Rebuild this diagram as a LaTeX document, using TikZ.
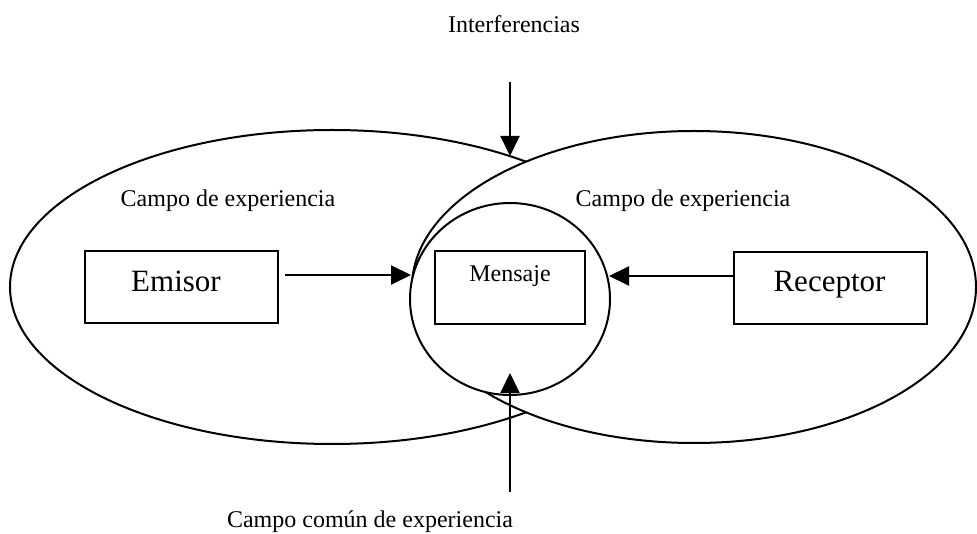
\documentclass[tikz,border=0pt]{standalone}
\usepackage{fontspec}
\setmainfont{Liberation Serif}
\usetikzlibrary{arrows.meta}
\begin{document}
\begin{tikzpicture}[x=1pt,y=-1pt,
  ln/.style={line width=2pt},
  box/.style={draw,line width=1.7pt,inner sep=0pt},
  lbl/.style={inner sep=0pt,anchor=base,font=\fontsize{24}{28}\selectfont},
  big/.style={inner sep=0pt,anchor=base,font=\fontsize{31}{36}\selectfont},
  arr/.style={line width=2pt,-{Triangle[length=20pt,width=19pt]}}]
\useasboundingbox (0,0) rectangle (977,534);
% fields of experience
\draw[ln] (332,287) ellipse [x radius=322, y radius=157];
\coordinate (leftfield) at (332,287);
\draw[ln,fill=white] (694,287) ellipse [x radius=282, y radius=156];
\coordinate (rightfield) at (694,287);
\draw[ln,fill=white] (510,299) ellipse [x radius=100, y radius=96];
\coordinate (common) at (510,299);
% boxes
\node[box,minimum width=193pt,minimum height=72pt] (emisorbox) at (181.5,287) {};
\node[box,minimum width=150pt,minimum height=73pt] (mensajebox) at (510,287.5) {};
\node[box,minimum width=193pt,minimum height=72pt] (receptorbox) at (830.5,288) {};
% texts
\node[big] (emisor) at (176,292) {Emisor};
\node[big] (receptor) at (829.5,292) {Receptor};
\node[lbl] (mensaje) at (510,282) {Mensaje};
\node[lbl] (campoL) at (228,207) {Campo de experiencia};
\node[lbl] (campoR) at (683,207) {Campo de experiencia};
\node[lbl] (interf) at (514,33) {Interferencias};
\node[lbl] (comun) at (370,527) {Campo común de experiencia};
% connectors
\coordinate (emisorout) at (285,275);
\coordinate (msgleft) at (411,275);
\coordinate (msgright) at (609,276);
\coordinate (receptorin) at (receptorbox.west |- msgright);
\coordinate (interftop) at (510,82);
\coordinate (interfend) at (510,156);
\coordinate (comunbot) at (510,492);
\coordinate (comunend) at (510,373);
\draw[arr] (emisorout) -- (msgleft);
\draw[arr] (receptorin) -- (msgright);
\draw[arr] (interftop) -- (interfend);
\draw[arr] (comunbot) -- (comunend);
\end{tikzpicture}
\end{document}
